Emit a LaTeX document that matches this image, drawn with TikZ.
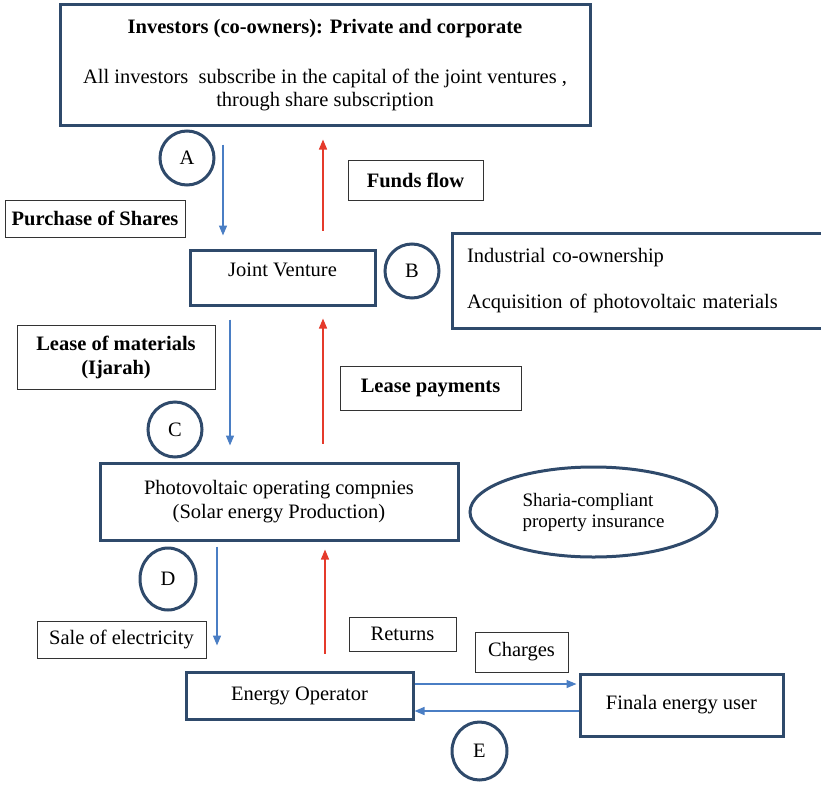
\documentclass[tikz,border=0pt]{standalone}
\usepackage{fontspec}
\setmainfont{Liberation Serif}
\usetikzlibrary{calc,positioning,arrows.meta,shapes.geometric}
\definecolor{navy}{HTML}{2F4A6B}
\definecolor{flowblue}{HTML}{4A7EC4}
\definecolor{flowred}{HTML}{E53A2B}
\begin{document}
\begin{tikzpicture}[x=1pt,y=-1pt,font=\fontsize{20.5}{23}\selectfont,
bigbox/.style={draw=navy,line width=3pt,align=center},
lbl/.style={draw=black!80,line width=1pt,align=center,font=\fontsize{20.5}{24}\selectfont\bfseries},
plain/.style={draw=black!80,line width=1pt,align=center},
tag/.style={draw=navy,line width=3pt,ellipse,inner sep=0pt},
down/.style={-{Triangle[width=8pt,length=10pt]},flowblue,line width=1.4pt},
up/.style={-{Triangle[width=8pt,length=10pt]},flowred,line width=1.4pt}]
\useasboundingbox(0,0)rectangle(821,784);
\node[bigbox,minimum width=530pt,minimum height=120pt](inv)at(325,65){{\bfseries Investors (co-owners): Private and corporate}\\[27pt]All investors\ \ subscribe in the capital of the joint ventures ,\\through share subscription};
\node[tag,minimum width=54pt,minimum height=54pt](A)at(187,158){A};
\node[lbl,minimum width=135pt,minimum height=40pt](funds)at(415.5,180){Funds flow};
\node[lbl,minimum width=180pt,minimum height=37pt](purchase)at(95,218.5){Purchase of Shares};
\node[bigbox,minimum width=185pt,minimum height=55pt,text depth=16pt](jv)at(282.5,277.5){Joint Venture};
\node[tag,minimum width=54pt,minimum height=54pt](B)at(412,271){B};
\node[draw=navy,line width=3pt,align=left,text width=348pt,inner xsep=15pt,minimum height=95pt](indus)at(641,280.5){Industrial co-ownership\\[23pt]Acquisition of photovoltaic materials};
\node[lbl,minimum width=198pt,minimum height=64pt](lease)at(116,357){Lease of materials\\(Ijarah)};
\node[lbl,minimum width=181pt,minimum height=44pt](leasepay)at(430.5,388){Lease payments};
\node[tag,minimum width=54pt,minimum height=55pt](C)at(175,429.5){C};
\node[bigbox,minimum width=358pt,minimum height=77pt,font=\fontsize{20.5}{24}\selectfont](pv)at(279,501.5){Photovoltaic operating compnies\\(Solar energy Production)};
\node[tag,minimum width=247pt,minimum height=90pt,align=left,font=\fontsize{19}{21}\selectfont](ins)at(593.5,512){Sharia-compliant\\property insurance};
\node[tag,minimum width=56pt,minimum height=62pt](D)at(168,579){D};
\node[plain,minimum width=169pt,minimum height=37pt](sale)at(121.5,639.5){Sale of electricity};
\node[plain,minimum width=107pt,minimum height=34pt](returns)at(402.5,634){Returns};
\node[plain,minimum width=93pt,minimum height=40pt](charges)at(521.5,652){Charges};
\node[bigbox,minimum width=227pt,minimum height=47pt](eo)at(299.5,695.5){Energy Operator};
\node[bigbox,minimum width=203pt,minimum height=62pt](user)at(681.5,705){Finala energy user};
\node[tag,minimum width=55pt,minimum height=58pt](E)at(479.5,751){E};
\coordinate(b1)at(223,0);
\coordinate(b2)at(230,0);
\coordinate(b3)at(217,0);
\coordinate(r1)at(323,0);
\coordinate(r3)at(325,0);
\coordinate(h1)at(0,684);
\coordinate(h2)at(0,711);
\draw[down,shorten <=18pt,shorten >=13pt](inv.south-|b1)--(jv.north-|b1);
\draw[up,shorten <=18pt,shorten >=13pt](jv.north-|r1)--(inv.south-|r1);
\draw[down,shorten <=13pt,shorten >=16pt](jv.south-|b2)--(pv.north-|b2);
\draw[up,shorten <=18pt,shorten >=12pt](pv.north-|r1)--(jv.south-|r1);
\draw[down,shorten <=5pt,shorten >=25pt](pv.south-|b3)--(eo.north-|b3);
\draw[up,shorten <=17pt,shorten >=8pt](eo.north-|r3)--(pv.south-|r3);
\draw[down,shorten >=2pt](eo.east|-h1)--(user.west|-h1);
\draw[down](user.west|-h2)--(eo.east|-h2);
\end{tikzpicture}
\end{document}
